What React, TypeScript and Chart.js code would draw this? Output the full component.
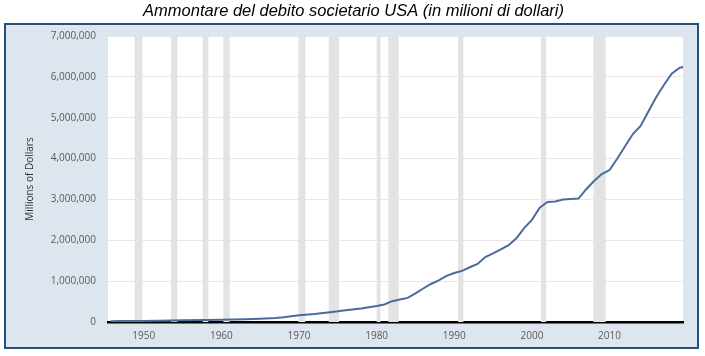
import React, { useEffect, useRef } from "react";
import { Chart, registerables } from "chart.js";

Chart.register(...registerables);

const titleText = "Ammontare del debito societario USA (in milioni di dollari)";
const yAxisTitle = "Millions of Dollars";

const years = [
  1945.75, 1947, 1949, 1950, 1952, 1955, 1958, 1960, 1963, 1965, 1967, 1968, 1970, 1972, 1974, 1976, 1978,
  1980, 1981, 1982, 1983, 1984, 1985, 1986, 1987, 1988, 1989, 1990, 1991, 1992, 1993, 1994, 1995, 1996,
  1997, 1998, 1999, 2000, 2001, 2002, 2003, 2004, 2005, 2006, 2007, 2008, 2009, 2010, 2011, 2012,
  2013, 2014, 2015, 2016, 2017, 2018, 2019, 2019.5,
];
const debt = [
  20000, 22000, 24000, 25000, 30000, 40000, 50000, 55000, 68000, 80000, 100000, 115000, 165000, 195000, 240000, 285000, 330000,
  390000, 430000, 510000, 550000, 590000, 700000, 820000, 930000, 1020000, 1130000, 1200000, 1250000, 1340000, 1420000, 1590000, 1680000, 1780000,
  1880000, 2050000, 2300000, 2500000, 2800000, 2940000, 2950000, 3000000, 3010000, 3020000, 3250000, 3450000, 3620000, 3720000, 4000000, 4300000,
  4600000, 4800000, 5150000, 5500000, 5800000, 6080000, 6220000, 6240000,
];

const recessionStart = [1948.83, 1953.5, 1957.58, 1960.25, 1969.92, 1973.83, 1980.0, 1981.5, 1990.5, 2001.17, 2007.92];
const recessionEnd = [1949.83, 1954.33, 1958.33, 1961.08, 1970.83, 1975.17, 1980.5, 1982.83, 1991.17, 2001.83, 2009.5];

const xTicks = [1950, 1960, 1970, 1980, 1990, 2000, 2010];
const yTicks = [0, 1000000, 2000000, 3000000, 4000000, 5000000, 6000000, 7000000];

const panelPlugin = {
  id: "panelPlugin",
  beforeDraw(chart: any) {
    const ctx = chart.ctx;
    ctx.save();
    ctx.fillStyle = "#ffffff";
    ctx.fillRect(0, 0, chart.width, chart.height);
    ctx.fillStyle = "#dde6ee";
    ctx.fillRect(5, 24, 693, 324);
    ctx.strokeStyle = "#24527f";
    ctx.lineWidth = 2;
    ctx.strokeRect(5, 24, 693, 324);
    const a = chart.chartArea;
    ctx.fillStyle = "#ffffff";
    ctx.fillRect(a.left, a.top, a.right - a.left, a.bottom - a.top);
    ctx.restore();
  },
  beforeDatasetsDraw(chart: any) {
    const ctx = chart.ctx;
    const a = chart.chartArea;
    const xs = chart.scales.x;
    ctx.save();
    ctx.fillStyle = "#e3e3e3";
    for (let i = 0; i < recessionStart.length; i++) {
      const x0 = xs.getPixelForValue(recessionStart[i]);
      const x1 = xs.getPixelForValue(recessionEnd[i]);
      ctx.fillRect(x0, a.top, x1 - x0, a.bottom - a.top);
    }
    ctx.restore();
  },
};

export default function App() {
  const ref = useRef<HTMLCanvasElement>(null);
  useEffect(() => {
    if (!ref.current) return;
    const chart = new Chart(ref.current, {
      type: "line",
      data: {
        datasets: [
          {
            data: years.map((y, i) => ({ x: y, y: debt[i] })),
            borderColor: "#4a6b9b",
            borderWidth: 2,
            pointRadius: 0,
            tension: 0,
            fill: false,
          },
        ],
      },
      options: {
        animation: false,
        responsive: false,
        devicePixelRatio: 1,
        layout: { padding: { left: 24, right: 22, top: 0, bottom: 0 } },
        plugins: {
          legend: { display: false },
          tooltip: { enabled: false },
          title: {
            display: true,
            text: titleText,
            color: "#000000",
            font: { family: "'Liberation Sans Narrow', 'Arial Narrow', 'Liberation Sans', sans-serif", size: 16.5, style: "italic", weight: "normal", lineHeight: 1.2 },
            padding: { top: 2, bottom: 14.2 },
          },
        },
        scales: {
          x: {
            type: "linear",
            min: 1945.4,
            max: 2019.46,
            afterBuildTicks(scale: any) {
              scale.ticks = xTicks.map((v) => ({ value: v }));
            },
            afterFit(scale: any) {
              scale.height = 34;
            },
            grid: { display: false, drawTicks: false },
            border: { display: true, color: "#000000", width: 2.5 },
            ticks: {
              padding: 8,
              color: "#5a5a5a",
              font: { family: "'Open Sans', sans-serif", size: 10 },
              maxRotation: 0,
              callback: (v: any) => String(v),
            },
          },
          y: {
            type: "linear",
            min: 0,
            max: 7000000,
            afterBuildTicks(scale: any) {
              scale.ticks = yTicks.map((v) => ({ value: v }));
            },
            afterFit(scale: any) {
              scale.width = 84;
            },
            grid: { color: "#e8e8e8", lineWidth: 1, drawTicks: false },
            border: { display: false },
            title: {
              display: true,
              text: yAxisTitle,
              color: "#333333",
              font: { family: "'Open Sans', sans-serif", size: 10, lineHeight: 1.2 },
              padding: { top: 0, bottom: 0 },
            },
            ticks: {
              padding: 12,
              color: "#5a5a5a",
              font: { family: "'Open Sans', sans-serif", size: 10 },
              callback: (v: any) => Number(v).toLocaleString("en-US"),
            },
          },
        },
      },
      plugins: [panelPlugin],
    });
    return () => chart.destroy();
  }, []);
  return (
    <div style={{ position: "absolute", left: 0, top: 0, width: 705, height: 356 }}>
      <canvas ref={ref} width={705} height={356} style={{ display: "block", width: 705, height: 356 }} />
    </div>
  );
}
